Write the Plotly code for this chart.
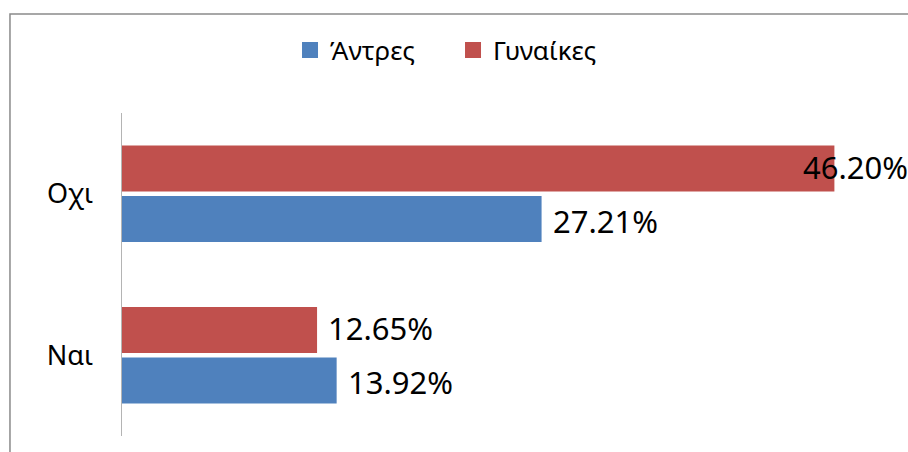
import plotly.graph_objects as go

categories = ["Ναι", "Οχι"]
series_names = ["Άντρες", "Γυναίκες"]
men_values = [13.92, 27.21]
women_values = [12.65, 46.20]
colors = ["#4F81BD", "#C0504D"]

FONT = "Noto Sans"
fig = go.Figure()

all_values = [men_values, women_values]
for name, vals, col in zip(series_names, all_values, colors):
    fig.add_trace(go.Bar(
        y=categories, x=vals, orientation="h", name=name,
        marker=dict(color=col, line=dict(width=0)),
        showlegend=False, hoverinfo="skip",
    ))
    # legend proxies (bigger square markers)
    fig.add_trace(go.Scatter(
        x=[None], y=[None], mode="markers", name=name,
        marker=dict(symbol="square", size=18, color=col),
        showlegend=True,
    ))

# data labels
max_val = max(max(v) for v in all_values)
annotations = []
for si, vals in enumerate(all_values):
    yshift = -27 if si == 0 else 27
    for cat, v in zip(categories, vals):
        shift = -33 if v == max_val else 9
        annotations.append(dict(
            x=v, y=cat, xref="x", yref="y", text=f"{v:.2f}%",
            showarrow=False, xanchor="left", yanchor="middle",
            xshift=shift, yshift=yshift,
            font=dict(family=FONT, size=31, color="#000000"),
        ))

fig.update_layout(
    width=908, height=452,
    margin=dict(l=122, r=15, t=113, b=16, autoexpand=False),
    paper_bgcolor="white", plot_bgcolor="white",
    barmode="group", bargap=0.375, bargroupgap=0.09,
    font=dict(family=FONT, color="#000000"),
    annotations=annotations,
    legend=dict(
        orientation="h", xref="container", yref="container",
        x=0.3194, xanchor="left", y=0.889, yanchor="middle",
        font=dict(family=FONT, size=26, color="#000000"),
        itemsizing="trace", traceorder="normal",
        entrywidth=118, entrywidthmode="pixels",
    ),
    shapes=[dict(
        type="rect", xref="paper", yref="paper",
        x0=-0.1453, x1=2.0, y0=-1.0, y1=1.3065,
        line=dict(color="#8a8a8a", width=1.5), fillcolor="rgba(0,0,0,0)",
        layer="below",
    )],
)
fig.update_xaxes(range=[0, 50], visible=False, showgrid=False, zeroline=False, fixedrange=True)
fig.update_yaxes(
    showline=True, linecolor="#b4b4b4", linewidth=1.5,
    showgrid=False, zeroline=False, ticks="", automargin=False,
    ticklabelstandoff=22,
    tickfont=dict(family=FONT, size=27, color="#000000"),
    categoryorder="array", categoryarray=categories,
)

fig.write_html(
    "out.html",
    config={"displayModeBar": False, "staticPlot": True},
    post_script="document.body.style.margin='0';document.body.style.overflow='hidden';",
)
